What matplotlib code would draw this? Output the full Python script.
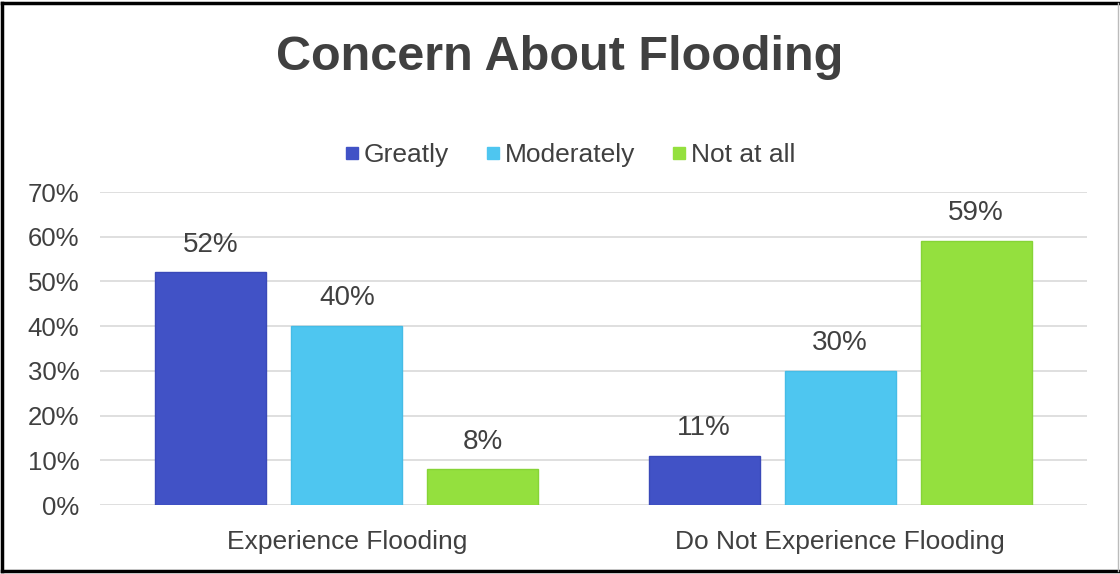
import numpy as np
import matplotlib
matplotlib.use('Agg')
import matplotlib.pyplot as plt
from matplotlib.lines import Line2D

plt.rcParams['font.family'] = ['Liberation Sans', 'DejaVu Sans']

categories = ['Experience Flooding', 'Do Not Experience Flooding']
series = ['Greatly', 'Moderately', 'Not at all']
greatly = [0.52, 0.11]
moderately = [0.40, 0.30]
not_at_all = [0.08, 0.59]
colors = ['#4152c6', '#4ec6f0', '#94e03e']
edges = ['#3a49b8', '#45bce6', '#86d436']

txt = '#404040'

fig = plt.figure(figsize=(11.2, 5.74), dpi=100)
ax = fig.add_axes([0.0893, 0.1202, 0.8812, 0.5453])

x = np.arange(len(categories))
w = 0.225
step = 0.2756
valores = [greatly, moderately, not_at_all]
for i, vals in enumerate(valores):
    pos = x + (i - 1) * step
    bars = ax.bar(pos, vals, w, color=colors[i], edgecolor=edges[i],
                  linewidth=1.0, label=series[i], zorder=3)
    for b, v in zip(bars, vals):
        ax.text(b.get_x() + b.get_width() / 2, v + 0.062, f'{v*100:.0f}%',
                ha='center', va='center', fontsize=20, color=txt)

ax.set_xlim(-0.5, 1.5)
ax.set_ylim(0, 0.7)
ax.set_yticks(np.arange(0, 0.71, 0.1))
ax.set_yticklabels([f'{int(round(t*100))}%' for t in np.arange(0, 0.71, 0.1)],
                   fontsize=18.5, color=txt)
ax.set_xticks(x)
ax.set_xticklabels(categories, fontsize=19, color=txt)
ax.tick_params(length=0)
ax.tick_params(axis='y', pad=15)
ax.tick_params(axis='x', pad=18)
ax.grid(axis='y', color='#d9d9d9', linewidth=1.2, zorder=0)
for s in ax.spines.values():
    s.set_visible(False)

fig.text(0.5, 0.90, 'Concern About Flooding', ha='center', va='center',
         fontsize=35, fontweight='bold', color=txt)

handles = [plt.Line2D([], [], marker='s', linestyle='', markersize=8,
                      color=c) for c in colors]
fig.legend(handles, series, loc='center', bbox_to_anchor=(0.508, 0.73),
           ncol=3, frameon=False, fontsize=19, labelcolor=txt,
           handletextpad=0.1, columnspacing=1.3, handlelength=0.7)

# moldura em volta da figura
fig.add_artist(Line2D([0.002, 0.998], [0.995, 0.995], color='black', lw=2.5))
fig.add_artist(Line2D([0.002, 0.998], [0.006, 0.006], color='black', lw=2.5))
fig.add_artist(Line2D([0.002, 0.002], [0.006, 0.995], color='black', lw=2.5))
fig.add_artist(Line2D([0.998, 0.998], [0.006, 0.995], color='#bbbbbb', lw=1))

fig.savefig('out.png', dpi=100, facecolor='white')
